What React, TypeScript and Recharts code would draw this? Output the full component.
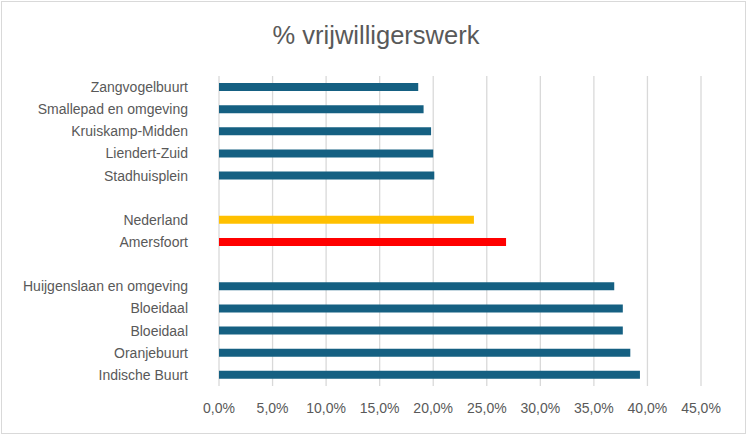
import React from "react";
import { BarChart, Bar, XAxis, YAxis, CartesianGrid, Cell } from "recharts";

const categories = [
  "Zangvogelbuurt",
  "Smallepad en omgeving",
  "Kruiskamp-Midden",
  "Liendert-Zuid",
  "Stadhuisplein",
  "",
  "Nederland",
  "Amersfoort",
  "",
  "Huijgenslaan en omgeving",
  "Bloeidaal",
  "Bloeidaal",
  "Oranjebuurt",
  "Indische Buurt",
];

const values: (number | null)[] = [
  18.6, 19.1, 19.8, 20.0, 20.1, null, 23.8, 26.8, null, 36.9, 37.7, 37.7, 38.4, 39.3,
];

const barColors = [
  "#156082", "#156082", "#156082", "#156082", "#156082", "#156082",
  "#FFC000", "#FF0000", "#156082",
  "#156082", "#156082", "#156082", "#156082", "#156082",
];

const xTicks = [0, 5, 10, 15, 20, 25, 30, 35, 40, 45];

const data = categories.map((c, i) => ({ key: String(i), label: c, value: values[i] }));

const fmt = (v: number) => v.toFixed(1).replace(".", ",") + "%";

export default function App() {
  return (
    <div style={{ position: "absolute", left: 0, top: 0, width: 748, height: 436, background: "#fff" }}>
      <div
        style={{
          position: "absolute",
          left: 1,
          top: 1,
          width: 745,
          height: 433,
          boxSizing: "border-box",
          border: "1px solid #d9d9d9",
        }}
      />
      <div
        style={{
          position: "absolute",
          left: 0,
          top: 19.5,
          width: 752,
          textAlign: "center",
          fontFamily: "'Liberation Sans', Arial, sans-serif",
          fontSize: 25.5,
          color: "#595959",
          lineHeight: "30px",
        }}
      >
        % vrijwilligerswerk
      </div>
      <div style={{ position: "absolute", left: 0, top: 0 }}>
        <BarChart
          width={748}
          height={436}
          data={data}
          layout="vertical"
          margin={{ top: 76, right: 47, bottom: 20, left: 0 }}
          barCategoryGap={0}
        >
          <CartesianGrid horizontal={false} vertical={true} stroke="#d9d9d9" strokeWidth={1.3} />
          <XAxis
            type="number"
            domain={[0, 45]}
            ticks={xTicks}
            tickFormatter={fmt}
            axisLine={false}
            tickLine={false}
            tickSize={0}
            tickMargin={17}
            height={30}
            interval={0}
            tick={{ fill: "#595959", fontSize: 14, fontFamily: "'Liberation Sans', Arial, sans-serif" }}
          />
          <YAxis
            type="category"
            dataKey="key"
            width={219}
            axisLine={false}
            tickLine={false}
            tickSize={0}
            tickMargin={17}
            interval={0}
            tickFormatter={(k: string) => categories[Number(k)]}
            tick={{ fill: "#595959", fontSize: 14, fontFamily: "'Liberation Sans', Arial, sans-serif", dx: -14 }}
          />
          <Bar dataKey="value" barSize={8} isAnimationActive={false}>
            {data.map((d, i) => (
              <Cell key={d.key} fill={barColors[i]} />
            ))}
          </Bar>
        </BarChart>
      </div>
    </div>
  );
}
